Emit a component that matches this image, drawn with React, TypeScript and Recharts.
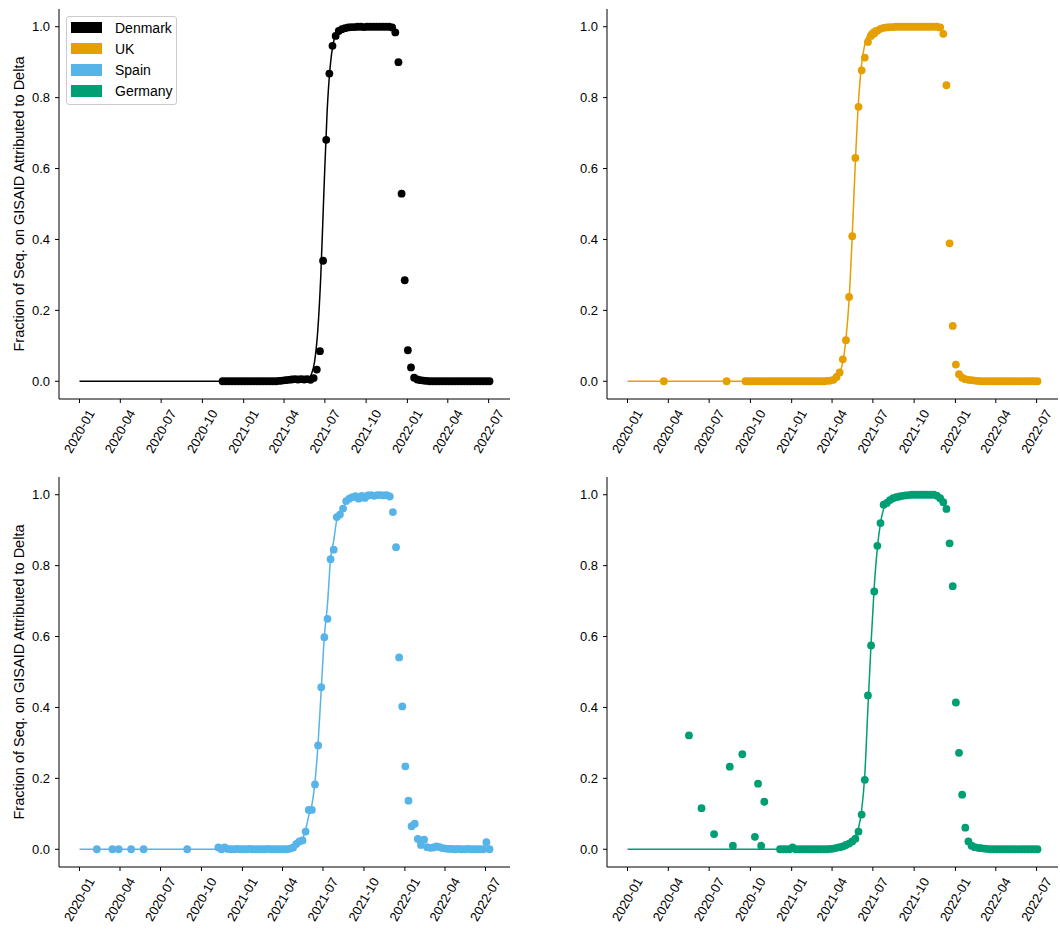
import React from "react";
import { ComposedChart, Line, Scatter, XAxis, YAxis } from "recharts";

type Row = [string, number];
interface Point {
  t: number;
  v: number;
}

const FONT = '"Liberation Sans", Arial, Helvetica, sans-serif';

const countries = ["Denmark", "UK", "Spain", "Germany"];
const countryColors = ["#000000", "#E69F00", "#56B4E9", "#009E73"];

const xTickLabels = [
  "2020-01", "2020-04", "2020-07", "2020-10", "2021-01", "2021-04",
  "2021-07", "2021-10", "2022-01", "2022-04", "2022-07",
];
const yTicks = [0, 0.2, 0.4, 0.6, 0.8, 1.0];
const yLabel = "Fraction of Seq. on GISAID Attributed to Delta";

// weekly shares (Sunday dated)
const denmarkWeekStart = "2020-11-15";
const denmarkWeekly = [
  0, 0, 0, 0, 0, 0, 0, 0, 0, 0,
  0, 0, 0, 0, 0, 0, 0, 0, 0.001, 0.002,
  0.003, 0.004, 0.005, 0.006, 0.005, 0.006, 0.005, 0.006, 0.004, 0.009,
  0.033, 0.085, 0.34, 0.681, 0.868, 0.946, 0.974, 0.988, 0.993, 0.996,
  0.998, 0.999, 0.999, 1, 1, 0.999, 1, 1, 1, 1,
  1, 1, 1, 1, 0.998, 0.984, 0.9, 0.529, 0.285, 0.0875,
  0.039, 0.01, 0.005, 0.003, 0.002, 0.001, 0, 0, 0, 0,
  0, 0, 0, 0, 0, 0, 0, 0, 0, 0,
  0, 0, 0, 0, 0, 0,
];
const denmarkFit: Row[] = [
  ["2020-01-01", 0], ["2021-04-15", 0], ["2021-05-15", 0.002], ["2021-05-25", 0.008],
  ["2021-06-01", 0.02], ["2021-06-08", 0.055], ["2021-06-15", 0.14], ["2021-06-22", 0.3],
  ["2021-06-29", 0.54], ["2021-07-06", 0.76], ["2021-07-13", 0.89], ["2021-07-20", 0.955],
  ["2021-07-27", 0.983], ["2021-08-03", 0.994], ["2021-08-17", 0.999], ["2021-11-28", 1],
];

const ukEarly: Row[] = [["2020-03-22", 0], ["2020-08-09", 0]];
const ukWeekStart = "2020-09-20";
const ukWeekly = [
  0, 0, 0, 0, 0, 0, 0, 0, 0, 0,
  0, 0, 0, 0, 0, 0, 0, 0, 0, 0,
  0, 0, 0, 0, 0, 0, 0.001, 0.002, 0.004, 0.012,
  0.025, 0.062, 0.116, 0.238, 0.409, 0.63, 0.774, 0.877, 0.913, 0.957,
  0.974, 0.981, 0.989, 0.994, 0.997, 0.998, 0.999, 0.999, 1, 1,
  1, 1, 1, 1, 1, 1, 1, 1, 1, 1,
  1, 1, 0.998, 0.98, 0.835, 0.389, 0.156, 0.047, 0.02, 0.01,
  0.006, 0.004, 0.003, 0.002, 0.001, 0, 0, 0, 0, 0,
  0, 0, 0, 0, 0, 0, 0, 0, 0, 0,
  0, 0, 0, 0,
];
const ukFit: Row[] = [
  ["2020-01-01", 0], ["2021-03-14", 0], ["2021-03-28", 0.002], ["2021-04-04", 0.005],
  ["2021-04-11", 0.011], ["2021-04-18", 0.024], ["2021-04-25", 0.054], ["2021-05-02", 0.12],
  ["2021-05-09", 0.23], ["2021-05-16", 0.41], ["2021-05-23", 0.62], ["2021-05-30", 0.79],
  ["2021-06-06", 0.895], ["2021-06-13", 0.95], ["2021-06-20", 0.978], ["2021-06-27", 0.99],
  ["2021-07-11", 0.998], ["2021-11-28", 1],
];

const spainEarly: Row[] = [
  ["2020-02-09", 0], ["2020-03-15", 0], ["2020-03-29", 0],
  ["2020-04-26", 0], ["2020-05-24", 0], ["2020-08-30", 0],
];
const spainWeekStart = "2020-11-08";
const spainWeekly = [
  0.005, 0, 0.005, 0.001,
  0, 0, 0.001, 0, 0, 0, 0.001, 0, 0, 0, 0, 0, 0.001, 0, 0, 0, 0, 0, 0,
  0.002, 0.005, 0.015, 0.022, 0.025, 0.05, 0.111, 0.111, 0.183, 0.293,
  0.457, 0.598, 0.65, 0.818, 0.845, 0.937, 0.944, 0.961,
  0.982, 0.989, 0.993, 0.996, 0.989, 0.997, 0.991, 0.998, 0.999, 0.997,
  0.999, 0.999, 0.998, 0.999, 0.995,
  0.951, 0.852, 0.541, 0.403, 0.234, 0.137, 0.065, 0.072, 0.029, 0.012, 0.027,
  0.006, 0.004, 0.005, 0.008, 0.006, 0.003, 0.002,
  0.001, 0.001, 0, 0.001, 0, 0, 0.001, 0, 0, 0, 0, 0,
  0.02, 0,
];
const spainFit: Row[] = [
  ["2020-01-01", 0], ["2021-04-11", 0], ["2021-04-25", 0.005], ["2021-05-02", 0.012],
  ["2021-05-09", 0.02], ["2021-05-16", 0.03], ["2021-05-23", 0.055], ["2021-05-30", 0.095],
  ["2021-06-06", 0.125], ["2021-06-13", 0.19], ["2021-06-20", 0.3], ["2021-06-27", 0.45],
  ["2021-07-04", 0.6], ["2021-07-11", 0.69], ["2021-07-18", 0.82], ["2021-07-25", 0.87],
  ["2021-08-01", 0.93], ["2021-08-08", 0.952], ["2021-08-15", 0.965], ["2021-08-22", 0.978],
  ["2021-09-05", 0.99], ["2021-10-03", 0.997], ["2021-11-28", 0.999],
];

const germanyEarly: Row[] = [
  ["2020-05-17", 0.321], ["2020-06-14", 0.116], ["2020-07-12", 0.043], ["2020-08-16", 0.233],
  ["2020-08-23", 0.01], ["2020-09-13", 0.268], ["2020-10-11", 0.035], ["2020-10-18", 0.185],
  ["2020-10-25", 0.01], ["2020-11-01", 0.134],
];
const germanyWeekStart = "2020-12-06";
const germanyWeekly = [
  0, 0, 0, 0, 0.005, 0, 0, 0, 0, 0, 0, 0, 0, 0, 0, 0,
  0.001, 0.002, 0.004, 0.006, 0.008, 0.012, 0.016, 0.022, 0.03, 0.05,
  0.098, 0.196, 0.434, 0.575, 0.727, 0.856, 0.92, 0.972,
  0.977, 0.985, 0.99, 0.993, 0.995, 0.997, 0.998, 0.999,
  1, 1, 1, 1, 1, 1, 1, 1,
  0.997, 0.99, 0.979, 0.96, 0.863, 0.742, 0.414, 0.272, 0.154, 0.061,
  0.022, 0.01, 0.006, 0.004, 0.003, 0.002, 0.001,
  0, 0, 0, 0, 0, 0, 0, 0, 0, 0, 0, 0, 0, 0, 0, 0,
];
const germanyFit: Row[] = [
  ["2020-01-01", 0], ["2021-03-28", 0], ["2021-04-18", 0.004], ["2021-05-02", 0.012],
  ["2021-05-16", 0.025], ["2021-05-23", 0.038], ["2021-05-30", 0.06], ["2021-06-06", 0.11],
  ["2021-06-13", 0.21], ["2021-06-20", 0.4], ["2021-06-27", 0.58], ["2021-07-04", 0.74],
  ["2021-07-11", 0.85], ["2021-07-18", 0.92], ["2021-07-25", 0.96], ["2021-08-01", 0.98],
  ["2021-08-15", 0.993], ["2021-09-12", 0.999], ["2021-11-28", 1],
];

const DAY = 86400000;
const toTime = (s: string) => Date.parse(s + "T00:00:00Z");

function fromRows(rows: Row[]): Point[] {
  return rows.map(([d, v]) => ({ t: toTime(d), v }));
}

function fromWeeks(start: string, values: number[]): Point[] {
  const t0 = toTime(start);
  return values.map((v, i) => ({ t: t0 + i * 7 * DAY, v }));
}

const xTicks = xTickLabels.map((m) => toTime(m + "-01"));

function formatMonth(t: number): string {
  const d = new Date(t);
  return `${d.getUTCFullYear()}-${String(d.getUTCMonth() + 1).padStart(2, "0")}`;
}

const renderXTick = (props: any) => {
  const { x, y, payload } = props;
  return (
    <g transform={`translate(${x + 11.7},${y + 5.7}) rotate(-60)`}>
      <text x={0} y={0} dy="0.35em" textAnchor="end" fontSize={13} fontFamily={FONT} fill="#000">
        {formatMonth(payload.value)}
      </text>
    </g>
  );
};

interface PanelProps {
  color: string;
  dots: Point[];
  fit: Point[];
  width: number;
  marginTop: number;
  marginRight: number;
  showYLabel?: boolean;
}

const CHART_H = 465;
const PLOT_H = 390;

function Panel({ color, dots, fit, width, marginTop, marginRight, showYLabel }: PanelProps) {
  const times = [...dots, ...fit].map((p) => p.t);
  const lo = Math.min(...times);
  const hi = Math.max(...times);
  const pad = (hi - lo) * 0.05;

  return (
    <ComposedChart
      width={width}
      height={CHART_H}
      margin={{ top: marginTop, right: marginRight, bottom: 0, left: 0 }}
    >
      <XAxis
        dataKey="t"
        type="number"
        domain={[lo - pad, hi + pad]}
        allowDataOverflow
        ticks={xTicks}
        interval={0}
        tick={renderXTick}
        tickSize={4}
        tickMargin={2}
        height={CHART_H - marginTop - PLOT_H}
        axisLine={{ stroke: "#000", strokeWidth: 1 }}
        tickLine={{ stroke: "#000", strokeWidth: 1 }}
      />
      <YAxis
        dataKey="v"
        type="number"
        domain={[-0.05, 1.05]}
        allowDataOverflow
        ticks={yTicks}
        width={59}
        tickSize={4}
        tickMargin={5}
        tickFormatter={(v: number) => v.toFixed(1)}
        tick={{ fontSize: 13, fill: "#000", fontFamily: FONT }}
        axisLine={{ stroke: "#000", strokeWidth: 1 }}
        tickLine={{ stroke: "#000", strokeWidth: 1 }}
        label={
          showYLabel
            ? {
                value: yLabel,
                angle: -90,
                position: "insideLeft",
                offset: 19,
                style: { textAnchor: "middle", fontSize: 14.5, fill: "#000", fontFamily: FONT },
              }
            : undefined
        }
      />
      <Line
        data={fit}
        dataKey="v"
        type="monotone"
        stroke={color}
        strokeWidth={1.5}
        dot={false}
        activeDot={false}
        isAnimationActive={false}
      />
      <Scatter
        data={dots}
        dataKey="v"
        fill={color}
        isAnimationActive={false}
        shape={(p: any) => <circle cx={p.cx} cy={p.cy} r={3.9} fill={color} />}
      />
    </ComposedChart>
  );
}

function CountryLegend() {
  return (
    <div
      style={{
        position: "absolute",
        left: 66,
        top: 16,
        width: 111,
        height: 89,
        boxSizing: "border-box",
        border: "1px solid #cccccc",
        borderRadius: 3,
        background: "rgba(255,255,255,0.8)",
        fontFamily: FONT,
        fontSize: 14,
      }}
    >
      {countries.map((name, i) => (
        <div
          key={name}
          style={{
            position: "absolute",
            left: 4,
            top: 4.5 + i * 21.1,
            height: 12,
            display: "flex",
            alignItems: "center",
          }}
        >
          <span style={{ display: "block", width: 31, height: 11.7, background: countryColors[i] }} />
          <span style={{ marginLeft: 13, lineHeight: "12px", color: "#000", whiteSpace: "nowrap" }}>
            {name}
          </span>
        </div>
      ))}
    </div>
  );
}

export default function App() {
  const denmarkDots = fromWeeks(denmarkWeekStart, denmarkWeekly);
  const ukDots = [...fromRows(ukEarly), ...fromWeeks(ukWeekStart, ukWeekly)];
  const spainDots = [...fromRows(spainEarly), ...fromWeeks(spainWeekStart, spainWeekly)];
  const germanyDots = [...fromRows(germanyEarly), ...fromWeeks(germanyWeekStart, germanyWeekly)];

  return (
    <div
      style={{
        position: "absolute",
        left: 0,
        top: 0,
        width: 1060,
        height: 930,
        background: "#fff",
        fontFamily: FONT,
      }}
    >
      <div style={{ position: "absolute", left: 0, top: 0 }}>
        <Panel
          color={countryColors[0]}
          dots={denmarkDots}
          fit={fromRows(denmarkFit)}
          width={530}
          marginTop={9}
          marginRight={20}
          showYLabel
        />
      </div>
      <div style={{ position: "absolute", left: 548, top: 0 }}>
        <Panel
          color={countryColors[1]}
          dots={ukDots}
          fit={fromRows(ukFit)}
          width={512}
          marginTop={9}
          marginRight={2}
        />
      </div>
      <div style={{ position: "absolute", left: 0, top: 465 }}>
        <Panel
          color={countryColors[2]}
          dots={spainDots}
          fit={fromRows(spainFit)}
          width={530}
          marginTop={12}
          marginRight={20}
          showYLabel
        />
      </div>
      <div style={{ position: "absolute", left: 548, top: 465 }}>
        <Panel
          color={countryColors[3]}
          dots={germanyDots}
          fit={fromRows(germanyFit)}
          width={512}
          marginTop={12}
          marginRight={2}
        />
      </div>
      <CountryLegend />
    </div>
  );
}
